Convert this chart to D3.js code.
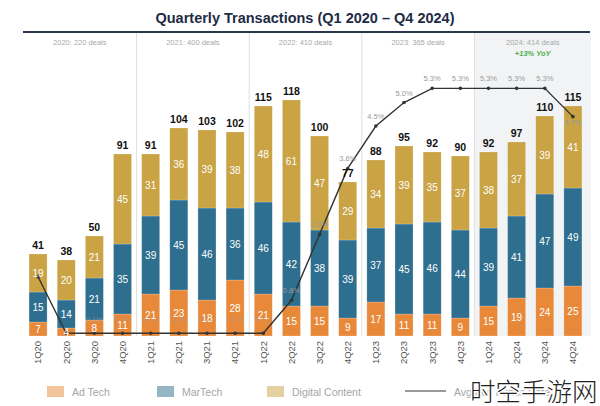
<!DOCTYPE html>
<html><head><meta charset="utf-8">
<script src="https://cdn.jsdelivr.net/npm/d3@7"></script>
<style>body{margin:0;background:#fff;}svg{display:block;font-family:"Liberation Sans",Arial,sans-serif;}</style>
</head><body><svg id="c" width="600" height="406"></svg>
<script>
const quarters = ["1Q20","2Q20","3Q20","4Q20","1Q21","2Q21","3Q21","4Q21","1Q22","2Q22","3Q22","4Q22","1Q23","2Q23","3Q23","4Q23","1Q24","2Q24","3Q24","4Q24"];
const adTech = [7,4,8,11,21,23,18,28,21,15,15,9,17,11,11,9,15,19,24,25];
const marTech = [15,14,21,35,39,45,46,36,46,42,38,39,37,45,46,44,39,41,47,49];
const digital = [19,20,21,45,31,36,39,38,48,61,47,29,34,39,35,37,38,37,39,41];
const totals = [41,38,50,91,91,104,103,102,115,118,100,77,88,95,92,90,92,97,110,115];
const fedRate = [1.3,0.1,0.1,0.1,0.1,0.1,0.1,0.1,0.1,0.8,2.2,3.6,4.5,5.0,5.3,5.3,5.3,5.3,5.3,4.7];
const rateLabels = ["","","0.1%","0.1%","0.1%","0.1%","0.1%","0.1%","0.1%","0.8%","2.2%","3.6%","4.5%","5.0%","5.3%","5.3%","5.3%","5.3%","5.3%","4.7%"];
const years = ["2020: 220 deals","2021: 400 deals","2022: 410 deals","2023: 365 deals","2024: 414 deals"];
const seriesNames = ["Ad Tech","MarTech","Digital Content"];
const colors = ["#E8893A","#2E6E8E","#C9A344"];

const svg = d3.select("#c");
const x = d3.scaleBand().domain(quarters).range([24,587]).paddingInner(0.36).paddingOuter(0.18);
const y = d3.scaleLinear().domain([0,120]).range([336,96]);
const yr = d3.scaleLinear().domain([0,6]).range([338,55.4]);

const step = x.step();
const divX = i => x(quarters[i]) + x.bandwidth() + (step - x.bandwidth())/2;
svg.append("rect").attr("x", divX(15)).attr("y", 33).attr("width", 591 - divX(15)).attr("height", 303).attr("fill", "#f1f3f4");

[3,7,11,15].forEach(i => {
  svg.append("line").attr("x1", divX(i)).attr("x2", divX(i)).attr("y1", 33).attr("y2", 336)
    .attr("stroke", "#dcdfe2").attr("stroke-width", 1);
});

svg.append("text").attr("x", 305).attr("y", 23).attr("text-anchor", "middle")
  .attr("font-size", 14.5).attr("font-weight", "bold").attr("fill", "#1E2B45")
  .text("Quarterly Transactions (Q1 2020 \u2013 Q4 2024)");
svg.append("line").attr("x1", 23).attr("x2", 590).attr("y1", 32).attr("y2", 32)
  .attr("stroke", "#2a3550").attr("stroke-width", 2.2);

const bounds = [23, divX(3), divX(7), divX(11), divX(15), 591];
years.forEach((t, i) => {
  svg.append("text").attr("x", (bounds[i] + bounds[i+1]) / 2).attr("y", 45).attr("text-anchor", "middle")
    .attr("font-size", 7.5).attr("fill", "#a9a9a9").text(t);
});
svg.append("text").attr("x", (bounds[4] + bounds[5]) / 2).attr("y", 56).attr("text-anchor", "middle")
  .attr("font-size", 7.5).attr("font-style", "italic").attr("font-weight", "bold").attr("fill", "#4CAF50").text("+13% YoY");

const rows = quarters.map((q, i) => ({q, a: adTech[i], m: marTech[i], d: digital[i]}));
const stack = d3.stack().keys(["a","m","d"])(rows);
stack.forEach((layer, li) => {
  svg.append("g").selectAll("rect").data(layer).join("rect")
    .attr("x", d => x(d.data.q)).attr("width", x.bandwidth())
    .attr("y", d => y(d[1])).attr("height", d => y(d[0]) - y(d[1]))
    .attr("fill", colors[li]).attr("stroke", "#fff").attr("stroke-opacity", 0.35).attr("stroke-width", 0.6);
});

const lineData = quarters.map((q, i) => ({q, r: fedRate[i], lbl: rateLabels[i]}));
const lx = d => x(d.q) + x.bandwidth() / 2;
svg.append("path").datum(lineData)
  .attr("d", d3.line().x(lx).y(d => yr(d.r)))
  .attr("fill", "none").attr("stroke", "#333").attr("stroke-width", 1.4);
svg.selectAll("circle.pt").data(lineData).join("circle").attr("class", "pt")
  .attr("cx", lx).attr("cy", d => yr(d.r)).attr("r", 1.8).attr("fill", "#333");
svg.selectAll("text.rl").data(lineData).join("text").attr("class", "rl")
  .attr("x", lx).attr("y", (d, i) => i === 19 ? yr(d.r) + 8 : (d.r < 0.5 ? yr(d.r) - 11 : yr(d.r) - 7))
  .attr("text-anchor", "middle").attr("font-size", 7.5)
  .attr("fill", "#9a9a9a").attr("fill-opacity", d => d.r < 0.5 ? 0.55 : 1)
  .text(d => d.lbl);

stack.forEach((layer) => {
  svg.append("g").selectAll("text").data(layer).join("text")
    .attr("x", d => x(d.data.q) + x.bandwidth() / 2)
    .attr("y", d => (y(d[0]) + y(d[1])) / 2 + 3.5)
    .attr("text-anchor", "middle").attr("font-size", 10).attr("fill", "#fff")
    .text(d => d[1] - d[0]);
});

svg.append("g").selectAll("text").data(quarters).join("text")
  .attr("x", q => x(q) + x.bandwidth() / 2).attr("y", (q, i) => y(totals[i]) - 5)
  .attr("text-anchor", "middle").attr("font-size", 10.5).attr("font-weight", "bold").attr("fill", "#111")
  .text((q, i) => totals[i]);

const xAxis = svg.append("g").attr("transform", "translate(0,338)")
  .call(d3.axisBottom(x).tickSize(0).tickPadding(0));
xAxis.select(".domain").remove();
xAxis.selectAll("text").attr("transform", "rotate(-90)").attr("text-anchor", "end")
  .attr("dx", "-0.3em").attr("dy", "0.35em").attr("x", 0).attr("y", 0)
  .attr("font-size", 9.5).attr("fill", "#555").attr("font-family", "Liberation Sans, Arial, sans-serif");

const leg = [{n: seriesNames[0], c: colors[0], x: 47}, {n: seriesNames[1], c: colors[1], x: 157}, {n: seriesNames[2], c: colors[2], x: 267}];
leg.forEach(l => {
  svg.append("rect").attr("x", l.x).attr("y", 386).attr("width", 17).attr("height", 11).attr("fill", l.c).attr("opacity", 0.5);
  svg.append("text").attr("x", l.x + 25).attr("y", 395.5).attr("font-size", 10.5).attr("fill", "#a5a5a5").text(l.n);
});
svg.append("line").attr("x1", 405).attr("x2", 446).attr("y1", 391).attr("y2", 391).attr("stroke", "#999").attr("stroke-width", 2);
svg.append("text").attr("x", 454).attr("y", 395.5).attr("font-size", 10.5).attr("fill", "#a5a5a5").text("Avg Fed Funds Rate");

svg.append("text").attr("x", 470).attr("y", 401).attr("font-size", 25.5)
  .attr("font-family", "Noto Sans CJK SC").attr("font-weight", 300).attr("fill", "#222")
  .attr("stroke", "#fff").attr("stroke-width", 3).attr("paint-order", "stroke")
  .text("时空手游网");
</script></body></html>
